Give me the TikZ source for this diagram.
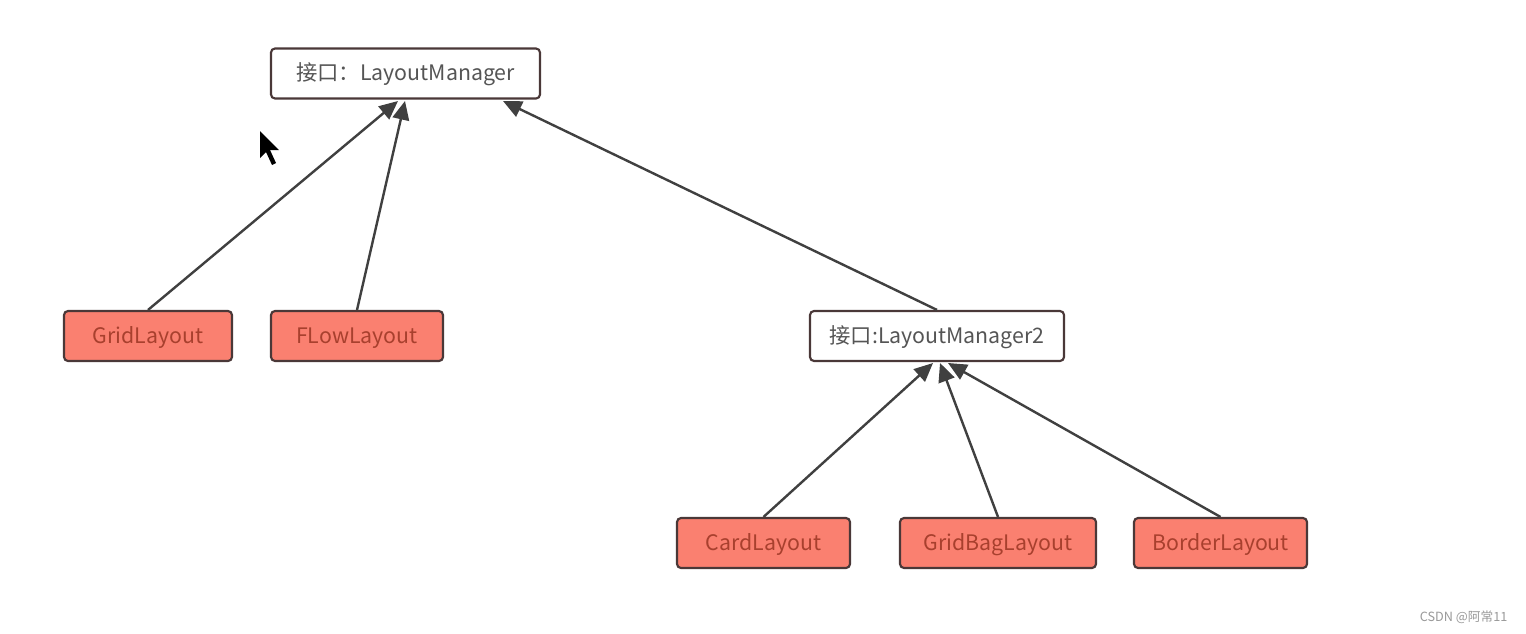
\documentclass[tikz,border=0pt]{standalone}
\usepackage{fontspec}
\setmainfont{Noto Sans CJK SC}[BoldFont={Noto Sans CJK SC}]
\usetikzlibrary{arrows.meta}
\definecolor{salmonfill}{HTML}{FA8070}
\definecolor{boxline}{HTML}{4A3838}
\definecolor{redtext}{HTML}{A8402E}
\definecolor{graytext}{HTML}{555555}
\definecolor{linecol}{HTML}{404040}
\begin{document}
\begin{tikzpicture}[x=0.75pt,y=-0.75pt,
  boxbase/.style={draw=boxline, line width=1.6pt, rounded corners=3pt,
    font=\fontsize{16}{18}\selectfont, inner sep=0pt, minimum height=37.5pt,
    text height=1.2em, text depth=0.1em},
  iface/.style={boxbase, fill=white, text=graytext},
  impl/.style={boxbase, fill=salmonfill, text=redtext},
  inh/.style={draw=linecol, line width=1.8pt, -{Triangle[length=14pt,width=12.5pt]}}
]
\useasboundingbox (0,0) rectangle (1526,633);
\fill[white] (0,0) rectangle (1526,633);

\node[iface, minimum width=201.75pt] (lm) at (405.5,73.5) {接口：LayoutManager};
\node[impl, minimum width=126pt] (grid) at (148,336) {GridLayout};
\node[impl, minimum width=129pt] (flow) at (357,336) {FLowLayout};
\node[iface, minimum width=190.5pt] (lm2) at (937,336) {接口:LayoutManager2};
\node[impl, minimum width=129.75pt] (card) at (763.5,543) {CardLayout};
\node[impl, minimum width=147pt] (gbag) at (998,543) {GridBagLayout};
\node[impl, minimum width=129.75pt] (border) at (1220.5,543) {BorderLayout};

\coordinate (t1) at (398,101);
\coordinate (t2) at (405,101);
\coordinate (t3) at (503,101);
\coordinate (t4) at (933,363);
\coordinate (t5) at (940,363);
\coordinate (t6) at (948,363);

\draw[inh] (grid.north) -- (t1);
\draw[inh] (flow.north) -- (t2);
\draw[inh] (lm2.north) -- (t3);
\draw[inh] (card.north) -- (t4);
\draw[inh] (gbag.north) -- (t5);
\draw[inh] (border.north) -- (t6);

% mouse cursor
\fill[black] (260,131) -- (260,158) -- (266,152) -- (272,165) -- (276,163) -- (270,150) -- (279,150) -- cycle;

\node[text=gray!80, font=\fontsize{9.5}{11}\selectfont, anchor=east] (wm) at (1512,617) {CSDN @阿常11};
\end{tikzpicture}
\end{document}
